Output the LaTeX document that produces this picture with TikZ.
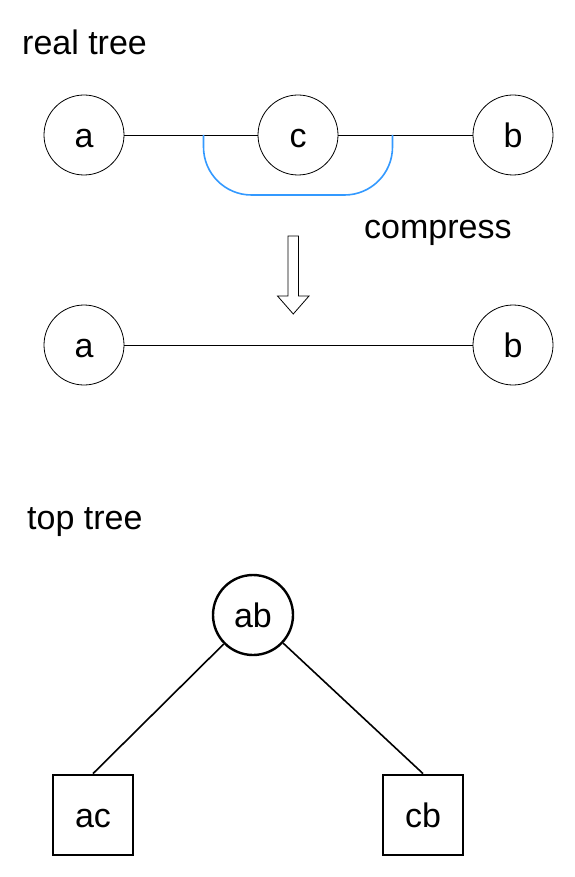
\documentclass[tikz,border=0pt]{standalone}
\usepackage{fontspec}
\setmainfont{Liberation Sans}
\usetikzlibrary{positioning}

\begin{document}
\begin{tikzpicture}[x=1pt, y=-1pt]

   %my colors
\definecolor{compressblue}{rgb}{0.2, 0.6, 1.0}

    % sizes
    \def\D{80pt} % node size
    \def\fs{\fontsize{34}{40}\selectfont}

    \tikzset{
      tnode/.style={draw, circle, minimum size=\D, inner sep=0pt, line width=0.8pt, font=\fs, text height=24.5pt, text depth=0pt},
      topnode/.style={tnode, line width=2.4pt},
      leafnode/.style={draw, rectangle, minimum size=\D, inner sep=0pt, line width=2.8pt, font=\fs, text height=24.5pt, text depth=0pt},
      caption/.style={anchor=base west, inner sep=0pt, font=\fs}
    }

    \useasboundingbox (0,0) rectangle (574,877);

    % real tree
    \node[caption] (realtitle) at (22,55) {real tree};
    \node[tnode] (a1) at (84,135) {a};
    \node[tnode] (c1) at (298,135) {c};
    \node[tnode] (b1) at (513,135) {b};
    \draw[line width=0.8pt] (a1) -- (c1);
    \draw[line width=0.8pt] (c1) -- (b1);

    % the part that gets compressed
    \draw[compressblue, line width=1.6pt, rounded corners=48pt] (203.5,135) -- (203.5,195) -- (392.5,195) -- (392.5,135);
    \node[caption] (comptext) at (364,238) {compress};

    % down arrow
    \draw[line width=0.8pt, line join=miter] (288,236) -- (298.5,236) -- (298.5,296) -- (309,296) -- (293.25,314) -- (277.5,296) -- (288,296) -- cycle;

    % compressed tree
    \node[tnode] (a2) at (84,345) {a};
    \node[tnode] (b2) at (513,345) {b};
    \draw[line width=0.8pt] (a2) -- (b2);

    % top tree
    \node[caption] (toptitle) at (27,529) {top tree};
    \node[topnode] (ab) at (253,615) {ab};
    \node[leafnode] (ac) at (93,815) {ac};
    \node[leafnode] (cb) at (423,815) {cb};
    \draw[line width=1.6pt] (ab) -- (ac.north);
    \draw[line width=1.6pt] (ab) -- (cb.north);

\end{tikzpicture}
\end{document}
